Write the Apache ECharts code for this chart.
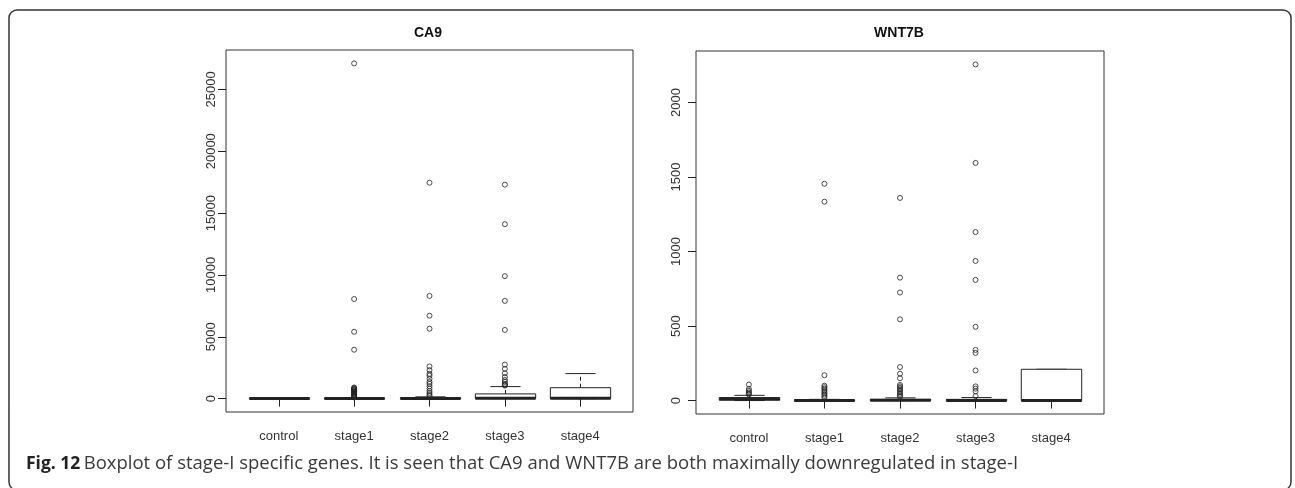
<!DOCTYPE html>
<html>
<head>
<meta charset="utf-8">
<title>Fig. 12 Boxplot of stage-I specific genes</title>
<script src="https://cdn.jsdelivr.net/npm/echarts@6/dist/echarts.min.js"></script>
<style>
  html, body { margin: 0; padding: 0; background: #fff; }
  #chart { width: 1295px; height: 488px; }
</style>
</head>
<body>
<div id="chart"></div>
<script>
// ---------- data ----------
var stages = ['control', 'stage1', 'stage2', 'stage3', 'stage4'];

// CA9: [lower whisker, Q1, median, Q3, upper whisker] per stage
var ca9Boxes = [
  [0, 2, 8, 25, 60],
  [0, 1, 5, 30, 70],
  [0, 2, 10, 60, 140],
  [0, 0, 30, 380, 970],
  [0, 0, 20, 880, 2020]
];
var ca9Outliers = [
  [],
  [27100, 8050, 5400, 3950, 900, 850, 800, 750, 700, 650, 600, 550, 500, 450, 400, 350, 300, 250, 200, 150, 100],
  [17450, 8300, 6700, 5650, 2600, 2300, 2000, 1850, 1600, 1350, 1200, 1000, 800, 600, 450, 300, 200],
  [17300, 14100, 9900, 7900, 5550, 2750, 2400, 2050, 1750, 1500, 1350, 1200, 1100, 1050],
  []
];
var ca9Ticks = [0, 5000, 10000, 15000, 20000, 25000];

// WNT7B
var wntBoxes = [
  [0, 3, 10, 20, 35],
  [0, 0, 1, 3, 8],
  [0, 0, 2, 8, 18],
  [0, 0, 1, 8, 20],
  [0, 0, 0, 210, 210]
];
var wntOutliers = [
  [107, 78, 65, 55, 47, 40],
  [1455, 1335, 170, 100, 90, 80, 70, 60, 50, 40, 30, 20],
  [1360, 825, 725, 545, 225, 180, 150, 105, 95, 85, 75, 65, 55, 45, 35, 25],
  [2256, 1595, 1131, 937, 810, 495, 340, 320, 202, 95, 80, 62, 30],
  []
];
var wntTicks = [0, 500, 1000, 1500, 2000];

var stageTicks = [1, 2, 3, 4, 5];

(function () {
  'use strict';

  var ink = '#222';
  var labelColor = '#333';

  // ---------- helpers ----------
  // R style range: data extent plus 4% on each side
  function paddedRange(boxes, outliers) {
    var lo = Infinity, hi = -Infinity;
    boxes.forEach(function (b) {
      lo = Math.min(lo, b[0]);
      hi = Math.max(hi, b[4]);
    });
    outliers.forEach(function (list) {
      list.forEach(function (v) {
        lo = Math.min(lo, v);
        hi = Math.max(hi, v);
      });
    });
    var pad = (hi - lo) * 0.04;
    return [lo - pad, hi + pad];
  }

  function boxData(boxes) {
    return boxes.map(function (b, i) { return [i + 1].concat(b); });
  }

  function outlierData(outliers) {
    var out = [];
    outliers.forEach(function (list, i) {
      list.forEach(function (v) { out.push([i + 1, v]); });
    });
    return out;
  }

  function renderBox(params, api) {
    var x = api.value(0);
    var half = api.size([0.8, 0])[0] / 2;
    var staple = half / 2;
    var pLo = api.coord([x, api.value(1)]);
    var pQ1 = api.coord([x, api.value(2)]);
    var pMed = api.coord([x, api.value(3)]);
    var pQ3 = api.coord([x, api.value(4)]);
    var pHi = api.coord([x, api.value(5)]);
    var cx = Math.round(pQ1[0]) + 0.5;
    var dashed = { stroke: ink, lineWidth: 1, lineDash: [4, 3] };
    var thin = { stroke: ink, lineWidth: 1 };
    return {
      type: 'group',
      children: [
        { type: 'line', shape: { x1: cx, y1: pQ3[1], x2: cx, y2: pHi[1] }, style: dashed },
        { type: 'line', shape: { x1: cx, y1: pQ1[1], x2: cx, y2: pLo[1] }, style: dashed },
        { type: 'line', shape: { x1: cx - staple, y1: pHi[1], x2: cx + staple, y2: pHi[1] }, style: thin },
        { type: 'line', shape: { x1: cx - staple, y1: pLo[1], x2: cx + staple, y2: pLo[1] }, style: thin },
        {
          type: 'rect',
          shape: { x: cx - half, y: pQ3[1], width: half * 2, height: pQ1[1] - pQ3[1] },
          style: { fill: '#fff', stroke: ink, lineWidth: 1 }
        },
        { type: 'line', shape: { x1: cx - half, y1: pMed[1], x2: cx + half, y2: pMed[1] }, style: { stroke: ink, lineWidth: 3 } }
      ]
    };
  }

  function xAxisFor(gridIndex) {
    return {
      type: 'value',
      gridIndex: gridIndex,
      min: 0.3,
      max: 5.7,
      axisLine: { show: false },
      splitLine: { show: false },
      axisTick: { show: true, inside: false, length: 8, customValues: stageTicks, lineStyle: { color: ink } },
      axisLabel: {
        customValues: stageTicks,
        margin: 18,
        color: labelColor,
        fontSize: 13,
        fontFamily: 'Liberation Sans, Arial, sans-serif',
        formatter: function (v) { return stages[Math.round(v) - 1]; }
      }
    };
  }

  function yAxisFor(gridIndex, range, ticks, margin) {
    return {
      type: 'value',
      gridIndex: gridIndex,
      min: range[0],
      max: range[1],
      axisLine: { show: false },
      splitLine: { show: false },
      axisTick: { show: true, inside: false, length: 8, customValues: ticks, lineStyle: { color: ink } },
      axisLabel: {
        customValues: ticks,
        rotate: 90,
        margin: margin,
        color: labelColor,
        fontSize: 13,
        fontFamily: 'Liberation Sans, Arial, sans-serif',
        formatter: function (v) { return String(Math.round(v)); }
      }
    };
  }

  // ---------- chart ----------
  var chart = echarts.init(document.getElementById('chart'));
  var ca9Range = paddedRange(ca9Boxes, ca9Outliers);
  var wntRange = paddedRange(wntBoxes, wntOutliers);

  var gridBase = {
    show: true,
    borderColor: '#333',
    borderWidth: 1,
    backgroundColor: 'transparent',
    containLabel: false,
    outerBoundsMode: 'none'
  };

  var scatterStyle = {
    type: 'scatter',
    symbol: 'circle',
    symbolSize: 5,
    z: 5,
    itemStyle: { color: 'rgba(0,0,0,0)', borderColor: ink, borderWidth: 1 }
  };

  var option = {
    animation: false,
    backgroundColor: '#fff',
    grid: [
      Object.assign({ left: 226, top: 50, width: 407, height: 362 }, gridBase),
      Object.assign({ left: 696, top: 51, width: 408, height: 363 }, gridBase)
    ],
    xAxis: [xAxisFor(0), xAxisFor(1)],
    yAxis: [
      yAxisFor(0, ca9Range, ca9Ticks, 8),
      yAxisFor(1, wntRange, wntTicks, 13)
    ],
    graphic: [
      {
        type: 'rect',
        shape: { x: 9, y: 10, width: 1282, height: 480, r: 8 },
        style: { fill: null, stroke: '#333', lineWidth: 1.5 },
        silent: true
      },
      {
        type: 'text', x: 428, y: 33,
        style: { text: 'CA9', font: 'bold 14px "Liberation Sans", Arial, sans-serif', fill: '#111', align: 'center', verticalAlign: 'middle' }
      },
      {
        type: 'text', x: 899, y: 33,
        style: { text: 'WNT7B', font: 'bold 14px "Liberation Sans", Arial, sans-serif', fill: '#111', align: 'center', verticalAlign: 'middle' }
      },
      {
        type: 'text', x: 26, y: 464,
        style: {
          text: '{b|Fig. 12} {r|Boxplot of stage-I specific genes. It is seen that CA9 and WNT7B are both maximally downregulated in stage-I}',
          verticalAlign: 'middle',
          rich: {
            b: { fontWeight: 'bold', fontSize: 17.5, fontFamily: '"Open Sans", "Noto Sans", sans-serif', fill: '#222' },
            r: { fontSize: 18.5, fontFamily: '"Open Sans", "Noto Sans", sans-serif', fill: '#3a3a3a' }
          }
        }
      }
    ],
    series: [
      {
        type: 'custom',
        xAxisIndex: 0,
        yAxisIndex: 0,
        renderItem: renderBox,
        encode: { x: 0, y: [1, 2, 3, 4, 5] },
        data: boxData(ca9Boxes)
      },
      Object.assign({ xAxisIndex: 0, yAxisIndex: 0, data: outlierData(ca9Outliers) }, scatterStyle),
      {
        type: 'custom',
        xAxisIndex: 1,
        yAxisIndex: 1,
        renderItem: renderBox,
        encode: { x: 0, y: [1, 2, 3, 4, 5] },
        data: boxData(wntBoxes)
      },
      Object.assign({ xAxisIndex: 1, yAxisIndex: 1, data: outlierData(wntOutliers) }, scatterStyle)
    ]
  };

  chart.setOption(option);
})();
</script>
</body>
</html>
